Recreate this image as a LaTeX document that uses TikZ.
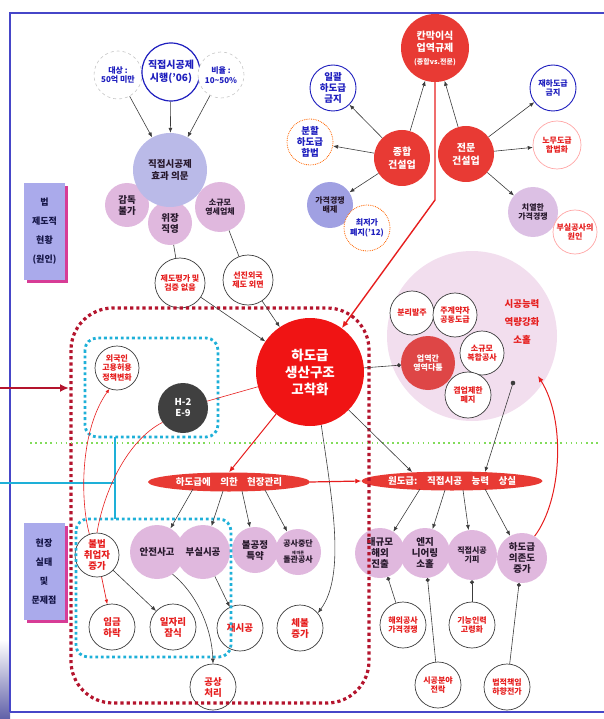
\documentclass[tikz,border=0pt]{standalone}
\usepackage{fontspec}
\setmainfont{Noto Sans CJK KR}
\usetikzlibrary{arrows.meta,shapes.geometric,calc,shadows}
\definecolor{frameblue}{RGB}{70,70,200}
\definecolor{pinkc}{RGB}{224,184,222}
\definecolor{pinkd}{RGB}{220,192,228}
\definecolor{lavc}{RGB}{186,186,232}
\definecolor{lavd}{RGB}{160,160,226}
\definecolor{redc}{RGB}{232,58,52}
\definecolor{redp}{RGB}{222,70,70}
\definecolor{bigred}{RGB}{240,20,20}
\definecolor{dred}{RGB}{180,20,45}
\definecolor{cyanc}{RGB}{30,176,216}
\definecolor{greenc}{RGB}{130,220,90}
\definecolor{paleP}{RGB}{242,222,238}
\definecolor{txtblue}{RGB}{30,30,190}
\definecolor{txtred}{RGB}{230,30,30}
\definecolor{darkg}{RGB}{64,64,64}
\definecolor{boxlav}{RGB}{170,170,235}
\definecolor{boxmag}{RGB}{215,60,150}
\definecolor{lineg}{RGB}{60,60,60}
\definecolor{pinktext}{RGB}{40,25,45}
\definecolor{navy}{RGB}{20,20,70}
\newcommand\fsa{\fontsize{9.5}{11}\selectfont\bfseries}
\newcommand\fsb{\fontsize{8}{9.5}\selectfont\bfseries}
\newcommand\fsc{\fontsize{13.5}{17}\selectfont\bfseries}
\newcommand\fsd{\fontsize{10}{12.5}\selectfont\bfseries}
\newcommand\fse{\fontsize{9.5}{12}\selectfont\bfseries}
\begin{document}
\begin{tikzpicture}[x=1pt,y=-1pt]
\tikzset{
 cbase/.style={circle, inner sep=0pt, align=center, minimum size=#1pt},
 pinkcirc/.style={cbase=#1, fill=pinkc, text=pinktext, font=\fsa},
 lavcirc/.style={cbase=#1, fill=lavc, text=pinktext, font=\fsa},
 redcirc/.style={cbase=#1, fill=redc, text=white, font=\fsa},
 whitecirc/.style={cbase=#1, fill=white, draw=lineg, line width=0.7pt, text=txtred, font=\fsa},
 bluecirc/.style={cbase=#1, fill=white, draw=txtblue, line width=0.9pt, text=txtblue, font=\fsa},
 dashcirc/.style={cbase=#1, fill=white, draw=gray!45, dashed, line width=0.6pt, text=txtblue, font=\fsb},
 dotcirc/.style={cbase=#1, fill=white, draw=orange!80!red, densely dotted, line width=0.8pt, text=txtblue, font=\fsa},
 lens/.style={ellipse, fill=redc, text=white, inner sep=0pt, minimum width=#1pt, minimum height=19pt, font=\fse},
 labbox/.style={rectangle, fill=boxlav, minimum width=41pt, minimum height=97pt, inner sep=0pt, align=center, text=navy,
   font=\fontsize{9}{19}\selectfont\bfseries, drop shadow={fill=boxmag, shadow xshift=3pt, shadow yshift=-3pt, opacity=1}},
 conn/.style={draw=lineg, line width=0.6pt, -{Latex[length=5pt,width=4pt]}},
 plainc/.style={draw=lineg, line width=0.6pt},
 dotc/.style={draw=lineg, line width=0.6pt, -{Circle[length=4pt]}},
 redarr/.style={draw=txtred, line width=1pt, -{Latex[length=6pt,width=5pt]}},
 thinred/.style={draw=txtred, line width=0.6pt},
}
\useasboundingbox (0,0) rectangle (604,719);
% frame
\shade[top color=white, bottom color=frameblue!55!gray] (0,640) rectangle (10,719);
\draw[frameblue, line width=1.8pt] (10,712) -- (10,13) -- (604,13);
\draw[frameblue, line width=1.8pt] (10,712) -- (604,712);

% pink region
\node[circle, fill=paleP, minimum size=170pt, inner sep=0pt] (P) at (472,336) {};

% top-left cluster
\node[dashcirc=48] (A1) at (118,75) {대상 :\\50억 미만};
\node[bluecirc=58, font=\fsd, line width=1.2pt] (A0) at (171,72) {직접시공제\\시행('06)};
\node[dashcirc=46] (A2) at (221,75) {비율 :\\10\textasciitilde50\%};
\node[pinkcirc=44] (B1) at (127,205) {감독\\불가};
\node[pinkcirc=44] (B2) at (170,223) {위장\\직영};
\node[pinkcirc=50, font=\fsb] (B3) at (220,207) {소규모\\영세업체};
\node[lavcirc=74, font=\fse] (B0) at (170,170) {직접시공제\\효과 의문};
\node[whitecirc=50, font=\fsb] (C1) at (180,283) {제도평가 및\\검증 없음};
\node[whitecirc=50, font=\fsb] (C2) at (248,280) {선진외국\\제도 외면};

% top-right cluster
\node[redcirc=68, font=\fsd] (D0) at (435,48) {칸막이식\\업역규제\\{\fontsize{7}{8}\selectfont(종합vs.전문)}};
\node[redcirc=56, font=\fsd] (D1) at (402,158) {종합\\건설업};
\node[redcirc=56, font=\fsd] (D2) at (466,154) {전문\\건설업};
\node[bluecirc=46] (D3) at (333,88) {일괄\\하도급\\금지};
\node[dotcirc=46] (D4) at (310,142) {분할\\하도급\\합법};
\node[lavcirc=46, fill=lavd, font=\fsb] (D5) at (330,205) {가격경쟁\\배제};
\node[dotcirc=46, font=\fsb] (D6) at (367,228) {최저가\\폐지('12)};
\node[bluecirc=46, font=\fsb] (D7) at (553,88) {재하도급\\금지};
\node[whitecirc=48, draw=red!35, font=\fsb] (D8) at (557,145) {노무도급\\합법화};
\node[pinkcirc=50, fill=pinkd, font=\fsb] (D9) at (533,212) {치열한\\가격경쟁};
\node[whitecirc=44, draw=red!35, font=\fsb] (D10) at (575,232) {부실공사의\\원인};

% centre
\node[redcirc=108, fill=bigred, font=\fsc] (H) at (310,372) {하도급\\생산구조\\고착화};
\node[cbase=50, fill=darkg, text=white, font=\fsa] (G) at (183,408) {H-2\\E-9};
\node[whitecirc=44, font=\fsb] (F) at (117,368) {외국인\\고용허용\\정책변화};

% pink region content
\node[whitecirc=44, font=\fsb] (P1) at (412,313) {분리발주};
\node[whitecirc=44, font=\fsb] (P2) at (455,315) {주계약자\\공동도급};
\node[whitecirc=44, font=\fsb] (P4) at (482,353) {소규모\\복합공사};
\node[whitecirc=46, font=\fsb] (P5) at (468,395) {겸업제한\\폐지};
\node[redcirc=54, fill=redp, font=\fsb] (P3) at (428,363) {업역간\\영역다툼};
\node[text=txtred, align=center, font=\fontsize{9.5}{18}\selectfont\bfseries] (PT) at (522,322) {시공능력\\역량강화\\소홀};

% lens shapes
\node[lens=162] (E1) at (229,482) {하도급에\quad 의한\quad 현장관리};
\node[lens=160] (E2) at (452,481) {원도급:\quad 직접시공\quad 능력\quad 상실};

% lower left
\node[pinkcirc=54] (L1) at (157,552) {안전사고};
\node[pinkcirc=54] (L2) at (203,552) {부실시공};
\node[pinkcirc=46] (L3) at (255,550) {불공정\\특약};
\node[pinkcirc=46, font=\fsb] (L4) at (298,552) {공사중단\\[-2pt]{\fontsize{4}{5}\selectfont 에 따른}\\[-1pt]돌관공사};
\node[whitecirc=44] (L5) at (97,555) {불법\\취업자\\증가};
\node[whitecirc=46] (L6) at (112,627) {임금\\하락};
\node[whitecirc=46] (L7) at (173,627) {일자리\\잠식};
\node[whitecirc=46] (L8) at (240,628) {재시공};
\node[whitecirc=46] (L9) at (300,628) {체불\\증가};
\node[whitecirc=46] (L10) at (213,687) {공상\\처리};

% lower right
\node[pinkcirc=50] (R1) at (380,553) {대규모\\해외\\진출};
\node[pinkcirc=50] (R2) at (425,553) {엔지\\니어링\\소홀};
\node[pinkcirc=50, font=\fsb] (R3) at (472,555) {직접시공\\기피};
\node[pinkcirc=50] (R4) at (522,558) {하도급\\의존도\\증가};
\node[whitecirc=46, font=\fsb] (R5) at (403,625) {해외공사\\가격경쟁};
\node[whitecirc=46, font=\fsb] (R6) at (438,685) {시공분야\\전락};
\node[whitecirc=46, font=\fsb] (R7) at (472,625) {기능인력\\고령화};
\node[whitecirc=46, font=\fsb] (R8) at (507,687) {법적책임\\하향전가};

% label boxes
\node[labbox] (K1) at (44.5,231.5) {법\\제도적\\현황\\(원인)};
\node[labbox] (K2) at (44,571.5) {현장\\실태\\및\\문제점};

% dotted frames and guide lines
\draw[dred, line width=3.2pt, dash pattern=on 3.2pt off 3pt, rounded corners=42pt] (71,308) rectangle (369,703);
\draw[cyanc, line width=2.8pt, dash pattern=on 2.8pt off 2.8pt, rounded corners=12pt] (85,338) rectangle (218,437);
\draw[cyanc, line width=2.8pt, dash pattern=on 2.8pt off 2.8pt, rounded corners=12pt] (76,519) rectangle (231,657);
\coordinate (g1) at (30,443); \coordinate (g2) at (600,443);
\draw[greenc, line width=1.6pt, dash pattern=on 1.6pt off 3.5pt] (g1) -- (g2);
\coordinate (b1) at (0,483); \coordinate (b2) at (115,483);
\coordinate (b3) at (115,437); \coordinate (b4) at (115,519);
\draw[cyanc, line width=2pt] (b1) -- (b2);
\draw[cyanc, line width=2pt] (b3) -- (b4);
\coordinate (r1) at (0,388); \coordinate (r2) at (69,388);
\draw[dred, line width=1.8pt, -{Latex[length=9pt,width=8pt]}] (r1) -- (r2);

% connectors: top-left
\draw[conn] (A1) -- (B0);
\draw[conn] (A0) -- (B0);
\draw[conn] (A2) -- (B0);
\draw[plainc] (B2) -- (C1);
\draw[conn] (C1) -- (H);
\draw[plainc] (B3) -- (C2);
\draw[conn] (C2) -- (H);

% top-right
\draw[conn] (D1) -- (D3);
\draw[conn] (D1) -- (D0);
\draw[conn] (D2) -- (D0);
\draw[conn] (D2) -- (D7);
\draw[conn] (D1) -- (D4);
\draw[conn] (D1) -- (D5);
\draw[conn] (D2) -- (D8);
\draw[conn] (D2) -- (D9);
\coordinate (D0b) at (435,200);
\draw[draw=txtred, line width=1.4pt, -{Latex[length=7pt,width=6pt]}] (D0.south) -- (D0b) -- (H);

% centre
\draw[dotc] (H) -- (P3);
\coordinate (pd) at (513,383);
\fill[lineg] (pd) circle[radius=2.3];
\coordinate (e2a) at (485,472);
\draw[conn] (pd) -- (e2a);
\draw[redarr] (H) -- (E1.north);
\coordinate (e2b) at (412,472);
\draw[conn] (H) -- (e2b);
\draw[conn] (H.282) .. controls (332,500) and (346,575) .. (L9.40);
\draw[redarr, line width=1.2pt] (E1.east) -- (E2.west);
\draw[thinred] (H) -- (G);
\draw[thinred] (G.215) .. controls (128,440) and (104,490) .. (L5.north);
\draw[thinred, -{Latex[length=4pt,width=3.5pt]}] (L5.110) .. controls (80,500) and (80,430) .. (F.250);

% ellipse 1 branches
\draw[conn] ($(E1.center)+(-36,7)$) -- (L1);
\draw[conn] ($(E1.center)+(-6,9)$) -- (L2);
\draw[conn] ($(E1.center)+(13,9)$) -- (L3);
\draw[conn] ($(E1.center)+(36,8)$) -- (L4);
\draw[redarr, line width=0.7pt, -{Latex[length=4.5pt,width=3.5pt]}] (L5) -- (L6);
\draw[conn] (L5) -- (L7);
\draw[conn] (L1.-55) .. controls (198,595) and (212,630) .. (L10.north);
\draw[conn] (L2) -- (L8);

% ellipse 2 branches
\draw[conn] ($(E2.center)+(-32,8)$) -- (R1);
\draw[conn] ($(E2.center)+(-7,9)$) -- (R2);
\draw[conn] ($(E2.center)+(11,9)$) -- (R3);
\draw[conn] ($(E2.center)+(33,8)$) -- (R4);
\draw[dotc] (R5) -- (R1);
\draw[dotc] (R6) -- (R2);
\draw[dotc] (R7) -- (R3);
\draw[dotc] (R8) -- (R4);
\coordinate (pr) at (538,376);
\draw[redarr] (R4.60) .. controls (562,500) and (566,420) .. (pr);
\end{tikzpicture}
\end{document}
